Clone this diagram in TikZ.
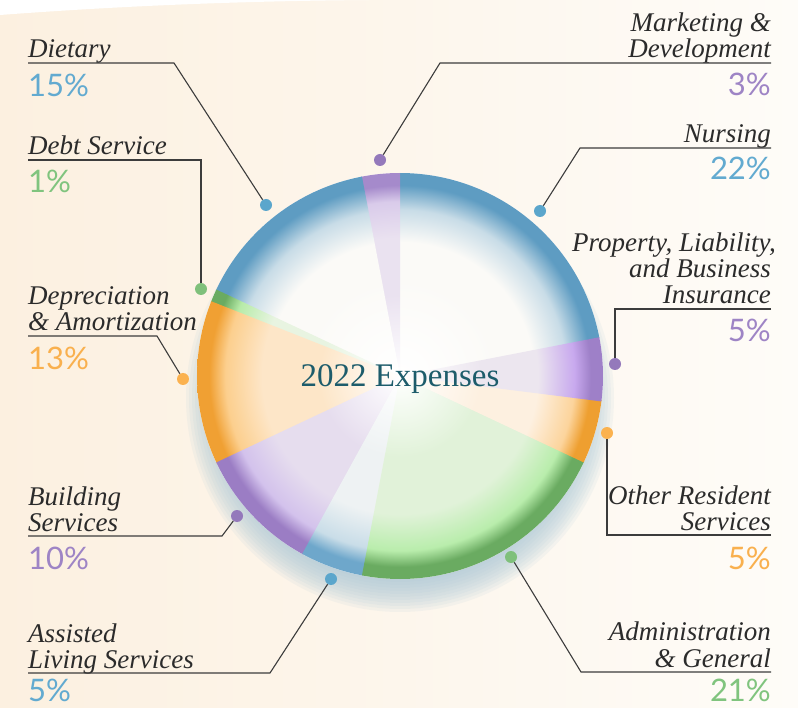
\documentclass[tikz,border=0pt]{standalone}
\usepackage{fontspec}
\setmainfont{Liberation Serif}
\newfontfamily\pctfont{Lato}

\definecolor{labCol}{HTML}{2B2B2B}
\definecolor{lineCol}{HTML}{3C3C3C}
\definecolor{titleCol}{HTML}{1D5C6B}
\definecolor{pBlue}{HTML}{62AAD0}
\definecolor{pGreen}{HTML}{80C47E}
\definecolor{pOrange}{HTML}{F9B04E}
\definecolor{pPurple}{HTML}{9E84C5}
\definecolor{dBlue}{HTML}{5BA6CC}
\definecolor{dGreen}{HTML}{7FC07B}
\definecolor{dOrange}{HTML}{FBB24F}
\definecolor{dPurple}{HTML}{9479BB}
\definecolor{bgL}{HTML}{FCF0E0}
\definecolor{bgM}{HTML}{FDF7EF}
\definecolor{bgR}{HTML}{FEFCF8}
\definecolor{shadowCol}{HTML}{A9C6D6}

\definecolor{nurIn}{HTML}{FBFAF7}\definecolor{nurMid}{HTML}{C8DCE7}\definecolor{nurRim}{HTML}{5E9CC2}
\definecolor{asIn}{HTML}{EEF2F3}\definecolor{asMid}{HTML}{C9DDE8}\definecolor{asRim}{HTML}{6EA7CB}
\definecolor{mkIn}{HTML}{EAE2F0}\definecolor{mkMid}{HTML}{D9CBEA}\definecolor{mkRim}{HTML}{A58ACB}
\definecolor{prIn}{HTML}{ECE6EF}\definecolor{prMid}{HTML}{C8A9EE}\definecolor{prRim}{HTML}{9E80C8}
\definecolor{bdIn}{HTML}{E6DDEE}\definecolor{bdMid}{HTML}{D3C2EC}\definecolor{bdRim}{HTML}{9B7DC4}
\definecolor{otIn}{HTML}{FDF0E0}\definecolor{otMid}{HTML}{FCD49C}\definecolor{otRim}{HTML}{EE9F30}
\definecolor{dpIn}{HTML}{FDE6C8}\definecolor{dpMid}{HTML}{FCCF8E}\definecolor{dpRim}{HTML}{F0A033}
\definecolor{adIn}{HTML}{E1F2D9}\definecolor{adMid}{HTML}{B9EDAC}\definecolor{adRim}{HTML}{6AAB61}
\definecolor{dbIn}{HTML}{E8F4E1}\definecolor{dbMid}{HTML}{B7EBA8}\definecolor{dbRim}{HTML}{6AAB61}

\newcommand\mkshade[4]{\pgfdeclareradialshading{#1}{\pgfpointorigin}{color(0bp)=(white); color(10bp)=(#2); color(17bp)=(#2); color(21.5bp)=(#3); color(23.5bp)=(#4); color(25bp)=(#4); color(50bp)=(#4)}}
\pgfdeclareradialshading{shNurs}{\pgfpointorigin}{color(0bp)=(white); color(12bp)=(nurIn); color(16.5bp)=(nurIn); color(20.5bp)=(nurMid); color(23.5bp)=(nurRim); color(25bp)=(nurRim); color(50bp)=(nurRim)}
\mkshade{shAsst}{asIn}{asMid}{asRim}
\mkshade{shMark}{mkIn}{mkMid}{mkRim}
\mkshade{shProp}{prIn}{prMid}{prRim}
\mkshade{shBuild}{bdIn}{bdMid}{bdRim}
\mkshade{shOther}{otIn}{otMid}{otRim}
\mkshade{shDepr}{dpIn}{dpMid}{dpRim}
\mkshade{shAdmin}{adIn}{adMid}{adRim}
\mkshade{shDebt}{dbIn}{dbMid}{dbRim}

\newcommand\pieslice[3]{\begin{scope}\clip (C) -- ++(#1:203pt) arc[start angle=#1, end angle=#2, radius=203pt] -- cycle; \shade[shading=#3] (C) circle (203pt);\end{scope}}
\newcommand\mylines[2]{\begin{tabular}[b]{@{}#1@{}}#2\end{tabular}}

\begin{document}
\begin{tikzpicture}[x=1pt,y=-1pt,
  lab/.style={font=\fontsize{27}{26}\selectfont\itshape, text=labCol, inner sep=0pt},
  labl/.style={lab, anchor=base west},
  labr/.style={lab, anchor=base east},
  pct/.style={font=\pctfont\fontsize{31}{31}\selectfont, text=#1, inner sep=0pt},
  pdot/.style={circle, fill=#1, minimum size=12pt, inner sep=0pt},
  leader/.style={draw=lineCol, line width=1.1pt, line join=miter}]
\useasboundingbox (0,0) rectangle (798,708);
\shade[left color=bgL, middle color=bgM, right color=bgR] (0,0) rectangle (798,708);
\fill[white] (0,0) -- (0,15) .. controls (120,6) and (240,1) .. (370,0) -- cycle;

% pie
\coordinate (C) at (400,376);
\foreach \r in {184,187,...,215} {\fill[shadowCol, opacity=0.11] (400,398) circle (\r pt);}
\fill[white] (C) circle (203pt);
\pieslice{10.8}{90.4}{shNurs}
\pieslice{90}{101.2}{shMark}
\pieslice{100.8}{155.2}{shNurs}
\pieslice{154.8}{158.8}{shDebt}
\pieslice{158.4}{205.6}{shDepr}
\pieslice{205.2}{241.6}{shBuild}
\pieslice{241.2}{259.6}{shAsst}
\pieslice{259.2}{335.2}{shAdmin}
\pieslice{334.8}{353.2}{shOther}
\pieslice{352.8}{371.0}{shProp}
\node[font=\fontsize{33}{33}\selectfont, text=titleCol, inner sep=0pt, anchor=base] (title) at (400,387) {2022 Expenses};

% dots
\node[pdot=dBlue] (dietD) at (266,205) {};
\node[pdot=dGreen] (debtD) at (201,289) {};
\node[pdot=dOrange] (deprD) at (183,379) {};
\node[pdot=dPurple] (buildD) at (237,516) {};
\node[pdot=dBlue] (asstD) at (331,579) {};
\node[pdot=dPurple] (markD) at (380,160) {};
\node[pdot=dBlue] (nursD) at (540,211) {};
\node[pdot=dPurple] (propD) at (615,364) {};
\node[pdot=dOrange] (othD) at (607,433) {};
\node[pdot=dGreen] (admD) at (511,557) {};

% labels left
\node[labl] (dietL) at (28,58) {Dietary};
\node[labl] (debtL) at (28,155) {Debt Service};
\node[labl] (deprL) at (28,331) {\mylines{l}{Depreciation\\ \& Amortization}};
\node[labl] (buildL) at (28,531) {\mylines{l}{Building\\ Services}};
\node[labl] (asstL) at (28,668) {\mylines{l}{Assisted\\ Living Services}};
% labels right
\node[labr] (markL) at (771,58) {\mylines{r}{Marketing \&\\ Development}};
\node[labr] (nursL) at (771,143) {Nursing};
\node[labr] (propL) at (771,304) {\mylines{r}{Property, Liability,\hspace*{-5pt}\\ and Business\\ Insurance}};
\node[labr] (othL) at (771,530) {\mylines{r}{Other Resident\\ Services}};
\node[labr] (admL) at (771,667) {\mylines{r}{Administration\\ \& General}};

% percentages
\node[pct=pBlue, anchor=base west] (dietP) at (28,97) {15\%};
\node[pct=pGreen, anchor=base west] (debtP) at (28,193) {1\%};
\node[pct=pOrange, anchor=base west] (deprP) at (28,370) {13\%};
\node[pct=pPurple, anchor=base west] (buildP) at (28,569) {10\%};
\node[pct=pBlue, anchor=base west] (asstP) at (28,701) {5\%};
\node[pct=pPurple, anchor=base east] (markP) at (771,96) {3\%};
\node[pct=pBlue, anchor=base east] (nursP) at (771,180) {22\%};
\node[pct=pPurple, anchor=base east] (propP) at (771,342) {5\%};
\node[pct=pOrange, anchor=base east] (othP) at (771,569) {5\%};
\node[pct=pGreen, anchor=base east] (admP) at (771,701) {21\%};

% leader coordinates
\coordinate (dietU) at (28,63);   \coordinate (dietE) at (174,63);
\coordinate (debtU) at (28,160);  \coordinate (debtE) at (201,160);
\coordinate (deprU) at (28,336);  \coordinate (deprE) at (157,336);
\coordinate (buildU) at (28,536); \coordinate (buildE) at (222,536);
\coordinate (asstU) at (28,673);  \coordinate (asstE) at (270,673);
\coordinate (markU) at (771,63);  \coordinate (markE) at (440,63);
\coordinate (nursU) at (771,148); \coordinate (nursE) at (580,148);
\coordinate (propU) at (771,309); \coordinate (propE) at (615,309);
\coordinate (othU) at (771,535);  \coordinate (othE) at (607,535);
\coordinate (admU) at (771,672);  \coordinate (admE) at (581,672);

\draw[leader] (dietU) -- (dietE) -- (dietD);
\draw[leader] (debtU) -- (debtE) -- (debtD);
\draw[leader] (deprU) -- (deprE) -- (deprD);
\draw[leader] (buildU) -- (buildE) -- (buildD);
\draw[leader] (asstU) -- (asstE) -- (asstD);
\draw[leader] (markU) -- (markE) -- (markD);
\draw[leader] (nursU) -- (nursE) -- (nursD);
\draw[leader] (propU) -- (propE) -- (propD);
\draw[leader] (othU) -- (othE) -- (othD);
\draw[leader] (admU) -- (admE) -- (admD);
\end{tikzpicture}
\end{document}
